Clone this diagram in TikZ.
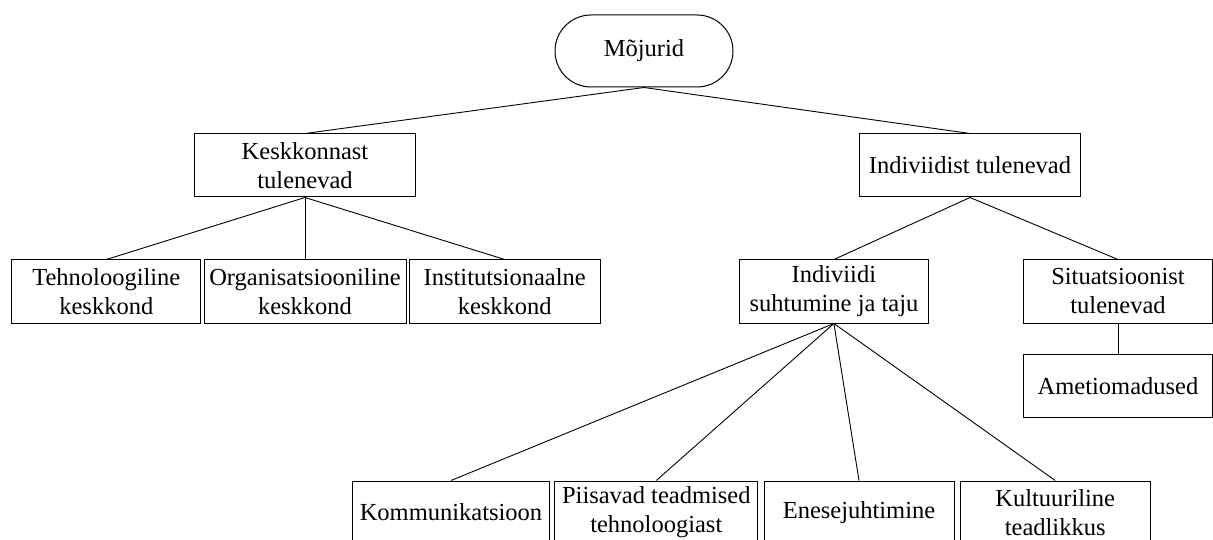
\documentclass[tikz,border=0pt]{standalone}
\usepackage{fontspec}
\setmainfont{Liberation Serif}
\usetikzlibrary{shapes.misc}
\tikzset{
  box/.style={draw=black, line width=1pt, rectangle, inner sep=0pt, align=center,
    minimum height=63pt, font=\fontsize{24.5}{29}\selectfont},
  pill/.style={draw=black, line width=1pt, rounded rectangle, inner sep=0pt, align=center,
    minimum width=178pt, minimum height=72pt, font=\fontsize{24.5}{29}\selectfont},
  link/.style={draw=black, line width=0.9pt}
}
\begin{document}
\begin{tikzpicture}[x=1pt, y=-1pt]
\useasboundingbox (0,0) rectangle (1213,540);
\clip (0,0) rectangle (1213,540);
\node[pill] (moj) at (644,51) {Mõjurid};
\node[box, minimum width=221.4pt] (kesk) at (305,165.5) {Keskkonnast\\tulenevad};
\node[box, minimum width=221.4pt] (indv) at (970,165.5) {Indiviidist tulenevad};
\node[box, minimum width=189.3pt] (tehno) at (106.3,291.5) {Tehnoloogiline\\keskkond};
\node[box, minimum width=202pt] (org) at (305,291.5) {Organisatsiooniline\\keskkond};
\node[box, minimum width=190.7pt] (inst) at (504.7,291.5) {Institutsionaalne\\keskkond};
\node[box, minimum width=189.7pt] (indsuh) at (833.9,291.5) {Indiviidi\\suhtumine ja taju};
\node[box, minimum width=188.6pt] (sit) at (1118,291.5) {Situatsioonist\\tulenevad};
\node[box, minimum width=189.2pt] (amet) at (1118,385.8) {Ametiomadused};
\node[box, minimum width=196.6pt] (komm) at (451,512.5) {Kommunikatsioon};
\node[box, minimum width=202.7pt] (piis) at (656.3,512.5) {Piisavad teadmised\\tehnoloogiast};
\node[box, minimum width=190pt] (enes) at (859,512.5) {Enesejuhtimine};
\node[box, minimum width=189.7pt] (kult) at (1055.2,512.5) {Kultuuriline\\teadlikkus};
\draw[link] (moj.south) -- (kesk.north);
\draw[link] (moj.south) -- (indv.north);
\draw[link] (kesk.south) -- (tehno.north);
\draw[link] (kesk.south) -- (org.north);
\draw[link] (kesk.south) -- (inst.north);
\draw[link] (indv.south) -- (indsuh.north);
\draw[link] (indv.south) -- (sit.north);
\draw[link] (sit.south) -- (amet.north);
\draw[link] (indsuh.south) -- (komm.north);
\draw[link] (indsuh.south) -- (piis.north);
\draw[link] (indsuh.south) -- (enes.north);
\draw[link] (indsuh.south) -- (kult.north);
\end{tikzpicture}
\end{document}
